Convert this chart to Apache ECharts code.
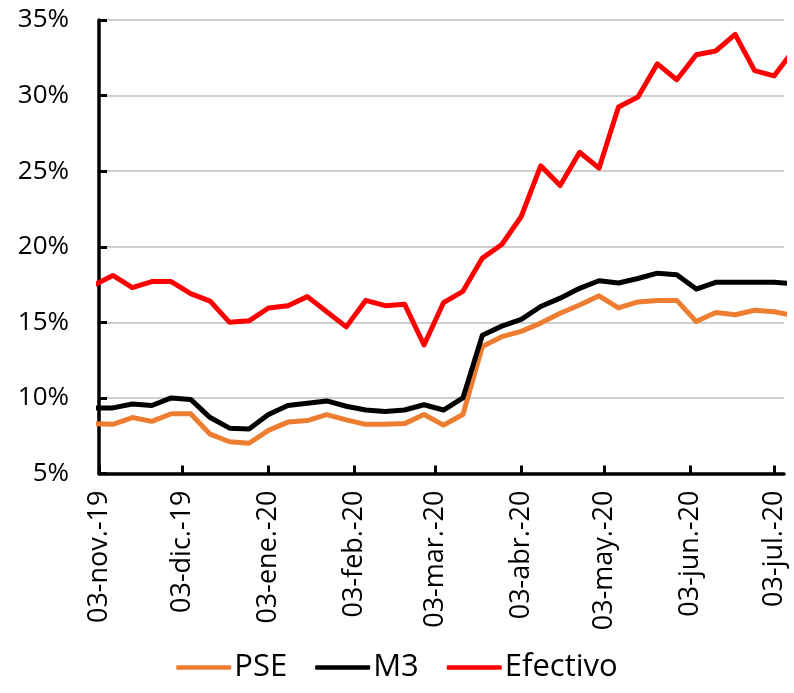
<!DOCTYPE html>
<html>
<head>
<meta charset="utf-8">
<script src="https://cdn.jsdelivr.net/npm/echarts@6/dist/echarts.min.js"></script>
<style>
html,body{margin:0;padding:0;background:#fff;}
#chart{width:794px;height:693px;}
</style>
</head>
<body>
<div id="chart"></div>
<script>
// Weekly observation dates (the first and last are partly outside the visible range)
const dates = [
  '2019-11-01','2019-11-08','2019-11-15','2019-11-22','2019-11-29',
  '2019-12-06','2019-12-13','2019-12-20','2019-12-27',
  '2020-01-03','2020-01-10','2020-01-17','2020-01-24','2020-01-31',
  '2020-02-07','2020-02-14','2020-02-21','2020-02-28',
  '2020-03-06','2020-03-13','2020-03-20','2020-03-27',
  '2020-04-03','2020-04-10','2020-04-17','2020-04-24',
  '2020-05-01','2020-05-08','2020-05-15','2020-05-22','2020-05-29',
  '2020-06-05','2020-06-12','2020-06-19','2020-06-26',
  '2020-07-03','2020-07-10'
];
// Values in percent
const pse = [
  8.3, 8.25, 8.7, 8.45, 8.95, 8.95, 7.6, 7.1, 7.0,
  7.85, 8.4, 8.5, 8.9, 8.55, 8.25, 8.25, 8.3, 8.9,
  8.2, 8.9, 13.4, 14.05, 14.4, 14.95, 15.6, 16.15,
  16.75, 15.95, 16.35, 16.45, 16.45, 15.05, 15.65, 15.5, 15.8,
  15.7, 15.45
];
const m3 = [
  9.34, 9.34, 9.6, 9.5, 10.0, 9.9, 8.7, 8.0, 7.95,
  8.9, 9.5, 9.65, 9.8, 9.45, 9.2, 9.1, 9.2, 9.55,
  9.2, 10.0, 14.15, 14.75, 15.2, 16.05, 16.6, 17.25,
  17.75, 17.6, 17.9, 18.25, 18.15, 17.2, 17.65, 17.65, 17.65,
  17.65, 17.55
];
const efectivo = [
  17.45, 18.1, 17.3, 17.7, 17.7, 16.9, 16.4, 15.0, 15.1,
  15.95, 16.1, 16.7, 15.7, 14.7, 16.45, 16.1, 16.2, 13.5,
  16.3, 17.05, 19.25, 20.15, 22.0, 25.35, 24.05, 26.25,
  25.2, 29.25, 29.9, 32.1, 31.05, 32.7, 32.95, 34.05, 31.65,
  31.3, 33.0
];
const seriesNames = ['PSE', 'M3', 'Efectivo'];
// Tick / label dates on the x axis
const tickDates = [
  '2019-11-03','2019-12-03','2020-01-03','2020-02-03','2020-03-03',
  '2020-04-03','2020-05-03','2020-06-03','2020-07-03'
];
const monthAbbr = ['ene','feb','mar','abr','may','jun','jul','ago','sep','oct','nov','dic'];
const axisStart = '2019-11-03';
const axisEnd = '2020-07-06T14:00';

function toTime(s) {
  const [d, t] = s.split('T');
  const p = d.split('-').map(Number);
  let h = 0;
  if (t) h = Number(t.split(':')[0]);
  return new Date(p[0], p[1] - 1, p[2], h).getTime();
}
function fmt(v) {
  const d = new Date(v);
  const dd = String(d.getDate()).padStart(2, '0');
  const yy = String(d.getFullYear() % 100).padStart(2, '0');
  return dd + '-' + monthAbbr[d.getMonth()] + '.-' + yy;
}
const tickVals = tickDates.map(toTime);
const FONT = '"Open Sans", "Noto Sans", sans-serif';
const colors = ['#ED7D31', '#000000', '#FF0000'];
const values = [pse, m3, efectivo];

const chart = echarts.init(document.getElementById('chart'), null, {renderer: 'canvas'});
chart.setOption({
  animation: false,
  backgroundColor: '#ffffff',
  color: colors,
  grid: {left: 99, top: 20, right: 10, bottom: 219.5, containLabel: false},
  legend: {
    data: seriesNames.map((n) => ({name: n, icon: 'roundRect'})),
    left: 'center',
    top: 647,
    itemWidth: 55,
    itemHeight: 4.5,
    itemGap: 28,
    textStyle: {fontSize: 31, fontFamily: FONT, color: '#000', padding: [0, 0, 0, -2]}
  },
  xAxis: {
    type: 'value',
    scale: true,
    min: toTime(axisStart),
    max: toTime(axisEnd),
    axisLine: {show: true, onZero: false, lineStyle: {color: '#000', width: 3.5}},
    axisTick: {show: true, inside: true, length: 8, customValues: tickVals, lineStyle: {color: '#000', width: 3}},
    axisLabel: {
      customValues: tickVals,
      rotate: 90,
      margin: 17,
      fontSize: 27,
      fontFamily: FONT,
      color: '#000',
      hideOverlap: false,
      showMinLabel: true,
      showMaxLabel: true,
      formatter: (v) => fmt(v)
    },
    splitLine: {show: false},
    minorTick: {show: false}
  },
  yAxis: {
    type: 'value',
    min: 5,
    max: 35,
    interval: 5,
    axisLine: {show: true, lineStyle: {color: '#000', width: 3.5}},
    axisTick: {show: true, inside: true, length: 8, lineStyle: {color: '#000', width: 3}},
    axisLabel: {formatter: '{value}%', fontSize: 26, fontFamily: FONT, color: '#000', margin: 30},
    splitLine: {show: true, lineStyle: {color: '#bfbfbf', width: 1.5}}
  },
  series: seriesNames.map((name, i) => ({
    name: name,
    type: 'line',
    symbol: 'none',
    clip: true,
    data: dates.map((d, k) => [toTime(d), values[i][k]]),
    lineStyle: {color: colors[i], width: 5, cap: 'round', join: 'round'},
    itemStyle: {color: colors[i]},
    z: 2 + i
  }))
});
</script>
</body>
</html>
